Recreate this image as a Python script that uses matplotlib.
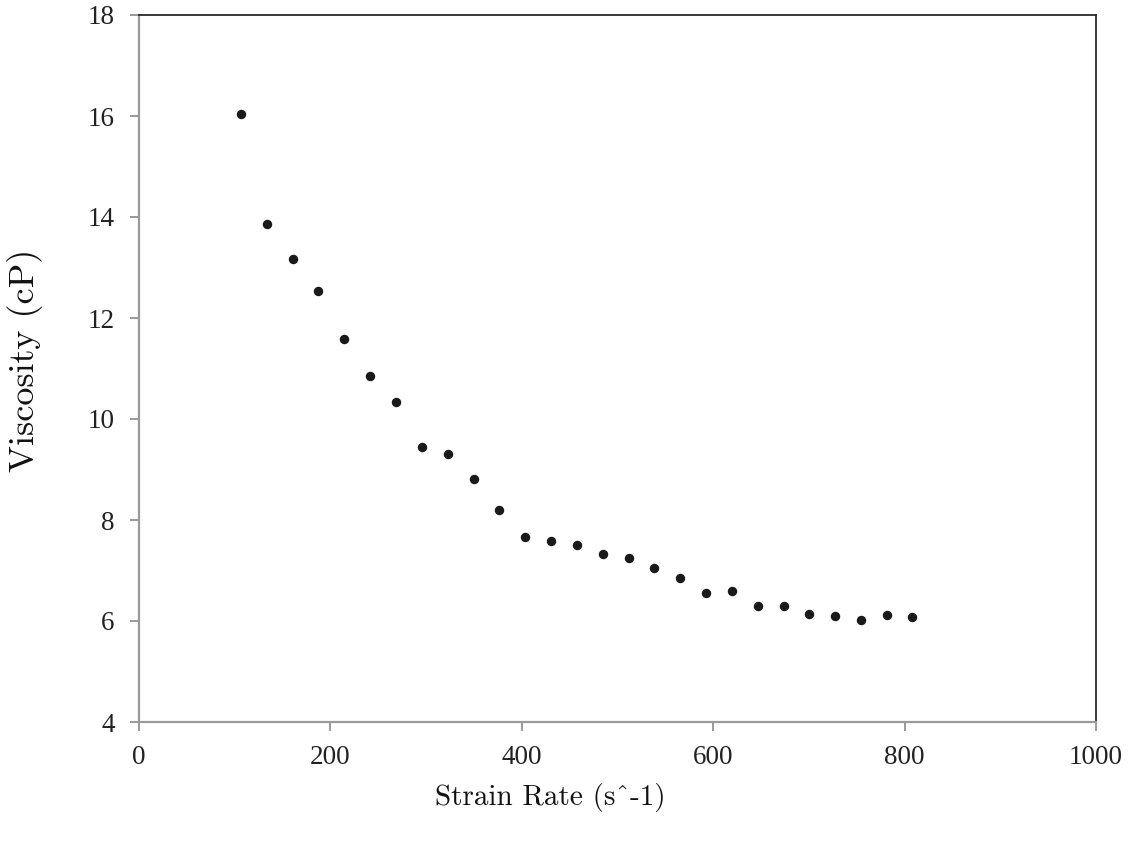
import matplotlib.pyplot as plt

# Shear-thinning measurement: viscosity against strain rate
strain_rate = [106.6, 133.7, 160.9, 187.4, 214.5, 241.7, 268.5, 295.7, 322.5,
               349.7, 376.5, 403.3, 430.5, 457.7, 484.5, 511.7, 538.1, 565.3,
               592.5, 619.3, 646.6, 673.6, 700.1, 727.3, 754.4, 781.3, 808.0]
viscosity = [16.04, 13.87, 13.17, 12.54, 11.59, 10.86, 10.34, 9.44, 9.31,
             8.81, 8.20, 7.67, 7.58, 7.50, 7.33, 7.25, 7.05, 6.86,
             6.55, 6.59, 6.29, 6.29, 6.14, 6.10, 6.01, 6.11, 6.07]

x_ticks = [0, 200, 400, 600, 800, 1000]
y_ticks = [4, 6, 8, 10, 12, 14, 16, 18]

tick_font = "Liberation Serif"
label_font = "cmr10"

fig = plt.figure(figsize=(11.31, 8.43), dpi=100)
ax = fig.add_axes([139 / 1131, 1 - 722 / 843, (1096 - 139) / 1131, (722 - 15) / 843])

ax.plot(strain_rate, viscosity, linestyle="none", marker="o",
        markersize=5.8, color="#1a1a1a")

ax.set_xlim(0, 1000)
ax.set_ylim(4, 18)
ax.set_xticks(x_ticks)
ax.set_yticks(y_ticks)

for side in ("left", "bottom"):
    ax.spines[side].set_color("#9a9a9a")
    ax.spines[side].set_linewidth(1.6)
for side in ("top", "right"):
    ax.spines[side].set_color("#2a2a2a")
    ax.spines[side].set_linewidth(1.3)

ax.tick_params(axis="both", direction="out", length=6.5, width=1.4,
               color="#9a9a9a", labelcolor="#222222", labelsize=19.5)
ax.tick_params(axis="y", pad=11)
ax.tick_params(axis="x", pad=10)
for lab in ax.get_xticklabels() + ax.get_yticklabels():
    lab.set_fontfamily(tick_font)

fig.text(550 / 1131, 1 - 797 / 843, "Strain Rate (s^-1)", family=label_font,
         fontsize=21, ha="center", va="center", color="#111111")
fig.text(25 / 1131, 1 - 360 / 843, "Viscosity (cP)", family=label_font,
         fontsize=26, ha="center", va="center", rotation=90, color="#111111")

fig.savefig("out.png", dpi=100)
